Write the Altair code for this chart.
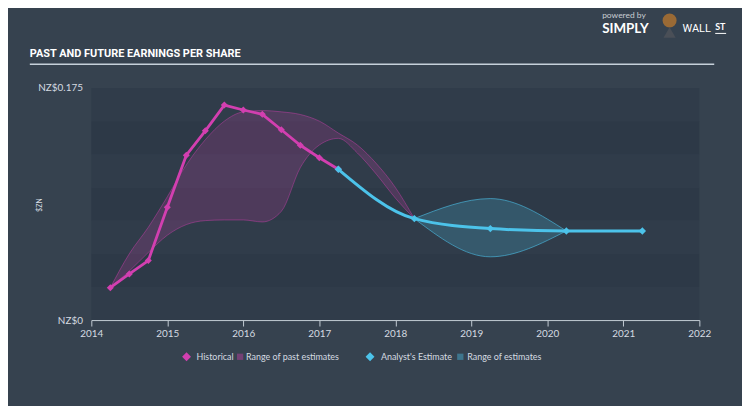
import altair as alt
import pandas as pd

# ---------------- data ----------------
hist_year = [2014.25, 2014.5, 2014.75, 2015.0, 2015.25, 2015.5, 2015.75, 2016.0,
             2016.25, 2016.5, 2016.75, 2017.0, 2017.25]
hist_eps = [0.0244, 0.0348, 0.0449, 0.0851, 0.1243, 0.1427, 0.1621, 0.1584,
            0.1551, 0.1435, 0.1318, 0.1224, 0.1137]

est_year = [2017.25, 2018.25, 2019.25, 2020.25, 2021.25]
est_eps = [0.1137, 0.0765, 0.0690, 0.0672, 0.0672]

past_range_year = [2014.25, 2014.5, 2014.75, 2015.0, 2015.25, 2015.5, 2015.75, 2016.0,
                   2016.25, 2016.5, 2016.75, 2017.0, 2017.25, 2017.5, 2017.75, 2018.0, 2018.25]
past_range_high = [0.0244, 0.050, 0.070, 0.093, 0.117, 0.136, 0.150, 0.157,
                   0.158, 0.157, 0.155, 0.150, 0.141, 0.132, 0.118, 0.100, 0.0765]
past_range_low = [0.0244, 0.037, 0.051, 0.064, 0.072, 0.075, 0.0755, 0.0755,
                  0.074, 0.082, 0.115, 0.132, 0.137, 0.126, 0.110, 0.092, 0.0765]

est_range_year = [2018.25, 2019.25, 2020.25]
est_range_high = [0.0765, 0.0916, 0.0672]
est_range_low = [0.0765, 0.0477, 0.0672]

band_start = [0.0, 0.025, 0.05, 0.075, 0.1, 0.125, 0.15]
band_shade = ["#303c4a", "#2d3947", "#303c4a", "#2d3947", "#303c4a", "#2d3947", "#303c4a"]

x_ticks = [2014, 2015, 2016, 2017, 2018, 2019, 2020, 2021, 2022]
y_ticks = [0, 0.175]

title_text = "PAST AND FUTURE EARNINGS PER SHARE"
legend_labels = ["Historical", "Range of past estimates", "Analyst's Estimate", "Range of estimates"]

# ---------------- style ----------------
PINK = "#d23fb0"
BLUE = "#4cc3ea"
BG = "#36424f"
TXT = "#d5dbe1"
FONT = "Lato"
W, H = 613, 234

x_scale = alt.Scale(domain=[2014, 2022], nice=False, zero=False)
y_scale = alt.Scale(domain=[0, 0.175], nice=False)

x_axis = alt.Axis(values=x_ticks, format="d", grid=False, title=None,
                  domainColor="#c3ccd5", tickColor="#c3ccd5", tickSize=6,
                  labelColor=TXT, labelFontSize=10, labelFont=FONT, labelPadding=3,
                  labelFlush=False)
y_axis = alt.Axis(values=y_ticks, grid=False, title=None, domain=False, ticks=False,
                  labelExpr="datum.value == 0 ? 'NZ$0' : 'NZ$0.175'",
                  labelColor=TXT, labelFontSize=10, labelFont=FONT, labelPadding=9)


def X(field):
    return alt.X(f"{field}:Q", scale=x_scale, axis=x_axis)


def Y(field):
    return alt.Y(f"{field}:Q", scale=y_scale, axis=y_axis)


hist_df = pd.DataFrame({"year": hist_year, "eps": hist_eps})
est_df = pd.DataFrame({"year": est_year, "eps": est_eps})
past_df = pd.DataFrame({"year": past_range_year, "low": past_range_low, "high": past_range_high})
estr_df = pd.DataFrame({"year": est_range_year, "low": est_range_low, "high": est_range_high})
band_df = pd.DataFrame({"y0": band_start, "y1": [b + 0.025 for b in band_start], "shade": band_shade})

bands = alt.Chart(band_df).mark_rect().encode(
    x=alt.value(0), x2=alt.value(W),
    y=Y("y0"), y2="y1",
    color=alt.Color("shade:N", scale=None),
)

past_area = alt.Chart(past_df).mark_area(interpolate="monotone", color=PINK, opacity=0.2).encode(
    x=X("year"), y=Y("low"), y2="high")
past_hi = alt.Chart(past_df).mark_line(interpolate="monotone", color=PINK, opacity=0.45, strokeWidth=1).encode(
    x=X("year"), y=Y("high"))
past_lo = alt.Chart(past_df).mark_line(interpolate="monotone", color=PINK, opacity=0.45, strokeWidth=1).encode(
    x=X("year"), y=Y("low"))

est_area = alt.Chart(estr_df).mark_area(interpolate="monotone", color=BLUE, opacity=0.22).encode(
    x=X("year"), y=Y("low"), y2="high")
est_hi = alt.Chart(estr_df).mark_line(interpolate="monotone", color=BLUE, opacity=0.6, strokeWidth=1).encode(
    x=X("year"), y=Y("high"))
est_lo = alt.Chart(estr_df).mark_line(interpolate="monotone", color=BLUE, opacity=0.6, strokeWidth=1).encode(
    x=X("year"), y=Y("low"))

hist_line = alt.Chart(hist_df).mark_line(
    color=PINK, strokeWidth=2.8,
    point=alt.OverlayMarkDef(shape="diamond", filled=True, size=50, color=PINK),
).encode(x=X("year"), y=Y("eps"))

est_line = alt.Chart(est_df).mark_line(
    color=BLUE, strokeWidth=3, interpolate="monotone",
    point=alt.OverlayMarkDef(shape="diamond", filled=True, size=55, color=BLUE),
).encode(x=X("year"), y=Y("eps"))

one = pd.DataFrame({"k": [0]})


def label(text, px, py, size=9, color=TXT, weight="normal", font=FONT, align="left", angle=0):
    return alt.Chart(one).mark_text(
        text=text, align=align, baseline="middle", fontSize=size, color=color,
        fontWeight=weight, font=font, angle=angle,
    ).encode(x=alt.value(px), y=alt.value(py))


title = label(title_text, -62, -34, size=11, color="#ffffff", weight="bold", font="Roboto")
underline = alt.Chart(one).mark_rule(color="#c6d0da", strokeWidth=1.5).encode(
    x=alt.value(-62), x2=alt.value(628), y=alt.value(-24))

logo_pb = label("powered by", 515, -74, size=8.5, color="#c9ced3")
logo_simply = label("SIMPLY", 515, -59, size=13.5, color="#ffffff", weight="bold")
logo_head = alt.Chart(one).mark_point(shape="circle", filled=True, size=200, color="#9a6a35", opacity=1).encode(
    x=alt.value(583), y=alt.value(-68))
logo_body = alt.Chart(one).mark_point(shape="triangle-up", filled=True, size=150, color="#4a4f57", opacity=1).encode(
    x=alt.value(583), y=alt.value(-56))
logo_wall = label("WALL", 596, -59, size=11, color="#ffffff", weight="normal", font="Roboto")
logo_st = label("ST", 629, -61, size=9, color="#ffffff", weight="bold")
logo_st_ul = alt.Chart(one).mark_rule(color="#ffffff", strokeWidth=1).encode(
    x=alt.value(629), x2=alt.value(640), y=alt.value(-55))

ytitle = label("NZ$", -54, 118, size=7, color=TXT, align="center", angle=90)

leg_d1 = alt.Chart(one).mark_point(shape="diamond", filled=True, size=80, color=PINK, opacity=1).encode(
    x=alt.value(96), y=alt.value(271))
leg_t1 = label(legend_labels[0], 106, 271)
leg_s1 = alt.Chart(one).mark_square(size=40, color=PINK, opacity=0.4).encode(
    x=alt.value(150), y=alt.value(271))
leg_t2 = label(legend_labels[1], 156, 271)
leg_d2 = alt.Chart(one).mark_point(shape="diamond", filled=True, size=80, color=BLUE, opacity=1).encode(
    x=alt.value(281), y=alt.value(271))
leg_t3 = label(legend_labels[2], 292, 271)
leg_s2 = alt.Chart(one).mark_square(size=40, color=BLUE, opacity=0.4).encode(
    x=alt.value(372), y=alt.value(271))
leg_t4 = label(legend_labels[3], 379, 271)

chart = alt.layer(
    bands, past_area, past_hi, past_lo, est_area, est_hi, est_lo, hist_line, est_line,
    title, underline, logo_pb, logo_simply, logo_head, logo_body, logo_wall, logo_st, logo_st_ul,
    ytitle, leg_d1, leg_t1, leg_s1, leg_t2, leg_d2, leg_t3, leg_s2, leg_t4,
).properties(
    width=W, height=H,
    autosize=alt.AutoSizeParams(type="none"),
    padding={"left": 84, "top": 79, "right": 43, "bottom": 85},
    background=BG,
).configure_view(stroke=None)

chart.save("out.html", embed_options={"renderer": "svg", "actions": False})
